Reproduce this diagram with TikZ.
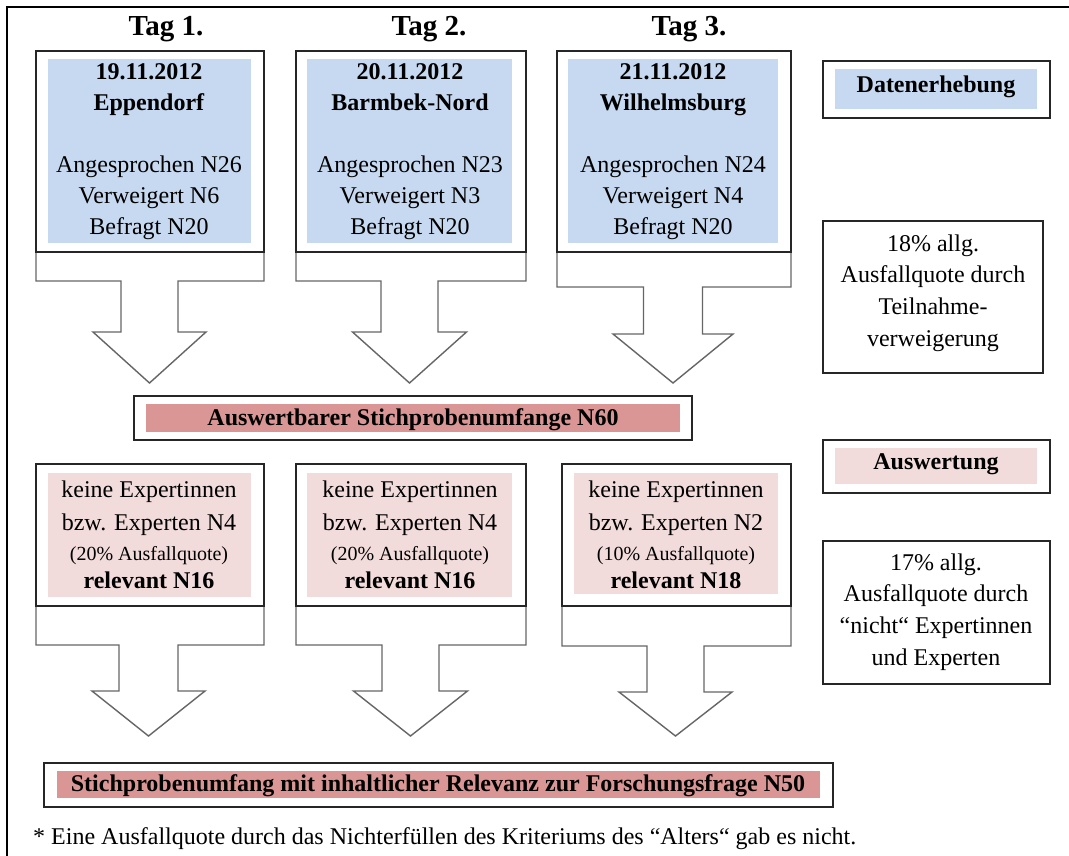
\documentclass[tikz,border=0pt]{standalone}
\usepackage{fontspec}
\setmainfont{Liberation Serif}
\definecolor{blueF}{HTML}{C6D9F1}
\definecolor{pinkL}{HTML}{F2DCDB}
\definecolor{pinkD}{HTML}{D99694}
\newcommand{\mkcallout}[9]{%
  \draw[callout] (#1,#3) -- (#1,#4) -- ({#5-#6},#4) -- ({#5-#6},#7) -- ({#5-#8},#7)
    -- (#5,#9) -- ({#5+#8},#7) -- ({#5+#6},#7) -- ({#5+#6},#4) -- (#2,#4) -- (#2,#3) -- cycle;}
\begin{document}
\begin{tikzpicture}[x=1pt,y=-1pt,
  box/.style={draw=black!85,line width=1.5pt,fill=white,inner sep=0pt,outer sep=0pt,anchor=north west},
  bfill/.style={fill=blueF,inner sep=0pt,outer sep=0pt,anchor=north west},
  lfill/.style={fill=pinkL,inner sep=0pt,outer sep=0pt,anchor=north west},
  dfill/.style={fill=pinkD,inner sep=0pt,outer sep=0pt,anchor=north west},
  callout/.style={draw=black!60,line width=1.4pt,fill=white,line join=miter},
  txt/.style={font=\fontsize{24}{31}\selectfont,align=center,inner sep=0pt},
  small/.style={font=\fontsize{20}{24}\selectfont},
  tag/.style={font=\fontsize{29}{35}\selectfont\bfseries,inner sep=0pt}]
\useasboundingbox (0,0) rectangle (1069,855);
\fill[white] (0,0) rectangle (1069,855);
\draw[line width=2pt,black] (7,856) -- (7,7) -- (1070,7);

% day labels
\node[tag] (tag1) at (166,29) {Tag 1.};
\node[tag] (tag2) at (429,29) {Tag 2.};
\node[tag] (tag3) at (689,29) {Tag 3.};

% callout arrows (upper)
\mkcallout{36}{264}{77}{281}{149.5}{28.5}{332}{56.5}{383}
\mkcallout{296}{526}{77}{281}{409.5}{28.5}{332}{57}{383}
\mkcallout{557}{791}{98}{287}{673}{29.5}{334}{60}{383}
% callout arrows (lower)
\mkcallout{36}{264}{500}{645}{148.5}{29.5}{691}{56.5}{736}
\mkcallout{296}{526}{500}{645}{410.5}{28.5}{691}{57}{736}
\mkcallout{562}{791}{500}{646}{675.5}{28.5}{692}{56.5}{736}

% upper day boxes
\node[box,minimum width=228pt,minimum height=201pt] (day1) at (36,51) {};
\node[bfill,minimum width=203pt,minimum height=184pt] (day1f) at (48,59) {};
\node[box,minimum width=230pt,minimum height=201pt] (day2) at (296,51) {};
\node[bfill,minimum width=205pt,minimum height=184pt] (day2f) at (307,59) {};
\node[box,minimum width=234pt,minimum height=201pt] (day3) at (557,51) {};
\node[bfill,minimum width=210pt,minimum height=184pt] (day3f) at (568,59) {};

\node[txt] (day1t) at (149,152) {\textbf{19.11.2012}\\\textbf{Eppendorf}\\[31pt]Angesprochen N26\\Verweigert N6\\Befragt N20};
\node[txt] (day2t) at (410,152) {\textbf{20.11.2012}\\\textbf{Barmbek-Nord}\\[31pt]Angesprochen N23\\Verweigert N3\\Befragt N20};
\node[txt] (day3t) at (673,152) {\textbf{21.11.2012}\\\textbf{Wilhelmsburg}\\[31pt]Angesprochen N24\\Verweigert N4\\Befragt N20};

% right column
\node[box,minimum width=227pt,minimum height=57pt] (erh) at (823,61) {};
\node[bfill,minimum width=202pt,minimum height=40pt] (erhf) at (835,69) {};
\node[txt,font=\fontsize{24}{31}\selectfont\bfseries] (erht) at (936,87) {Datenerhebung};

\node[box,minimum width=220pt,minimum height=152pt] (q1) at (823,221) {};
\node[txt] (q1t) at (933,293) {18\% allg.\\Ausfallquote durch\\[1pt]Teilnahme-\\[1pt]verweigerung};

\node[box,minimum width=227pt,minimum height=53pt] (ausw) at (823,440) {};
\node[lfill,minimum width=202pt,minimum height=36pt] (auswf) at (835,448) {};
\node[txt,font=\fontsize{24}{31}\selectfont\bfseries] (auswt) at (936,464) {Auswertung};

\node[box,minimum width=227pt,minimum height=143pt] (q2) at (823,541) {};
\node[txt] (q2t) at (936,612) {17\% allg.\\Ausfallquote durch\\[1pt]“nicht“ Expertinnen\\[1pt]und Experten};

% N60 box
\node[box,minimum width=558pt,minimum height=44pt] (n60) at (134,396) {};
\node[dfill,minimum width=534pt,minimum height=28pt] (n60f) at (146,404) {};
\node[txt,font=\fontsize{24}{31}\selectfont\bfseries] (n60t) at (413,420) {Auswertbarer Stichprobenumfange N60};

% lower boxes
\node[box,minimum width=228pt,minimum height=142pt] (ev1) at (36,464) {};
\node[lfill,minimum width=203pt,minimum height=124pt] (ev1f) at (48,473) {};
\node[box,minimum width=230pt,minimum height=142pt] (ev2) at (296,464) {};
\node[lfill,minimum width=205pt,minimum height=124pt] (ev2f) at (307,473) {};
\node[box,minimum width=229pt,minimum height=142pt] (ev3) at (562,464) {};
\node[lfill,minimum width=204pt,minimum height=121pt] (ev3f) at (574,473) {};

\node[txt] (ev1t) at (149,535) {keine Expertinnen\\[2pt]bzw. Experten N4\\[-1pt]{\small\fontsize{20}{24}\selectfont (20\% Ausfallquote)}\\[-3pt]\textbf{relevant N16}};
\node[txt] (ev2t) at (410,535) {keine Expertinnen\\[2pt]bzw. Experten N4\\[-1pt]{\fontsize{20}{24}\selectfont (20\% Ausfallquote)}\\[-3pt]\textbf{relevant N16}};
\node[txt] (ev3t) at (676,535) {keine Expertinnen\\[2pt]bzw. Experten N2\\[-1pt]{\fontsize{20}{24}\selectfont (10\% Ausfallquote)}\\[-3pt]\textbf{relevant N18}};

% N50 box
\node[box,minimum width=789pt,minimum height=44pt] (n50) at (44,763) {};
\node[dfill,minimum width=763pt,minimum height=27pt] (n50f) at (57,771) {};
\node[txt,font=\fontsize{24}{31}\selectfont\bfseries] (n50t) at (438,786) {Stichprobenumfang mit inhaltlicher Relevanz zur Forschungsfrage N50};

% footnote
\node[txt,anchor=west] (note) at (33,839) {* Eine Ausfallquote durch das Nichterfüllen des Kriteriums des “Alters“ gab es nicht.};
\end{tikzpicture}
\end{document}
